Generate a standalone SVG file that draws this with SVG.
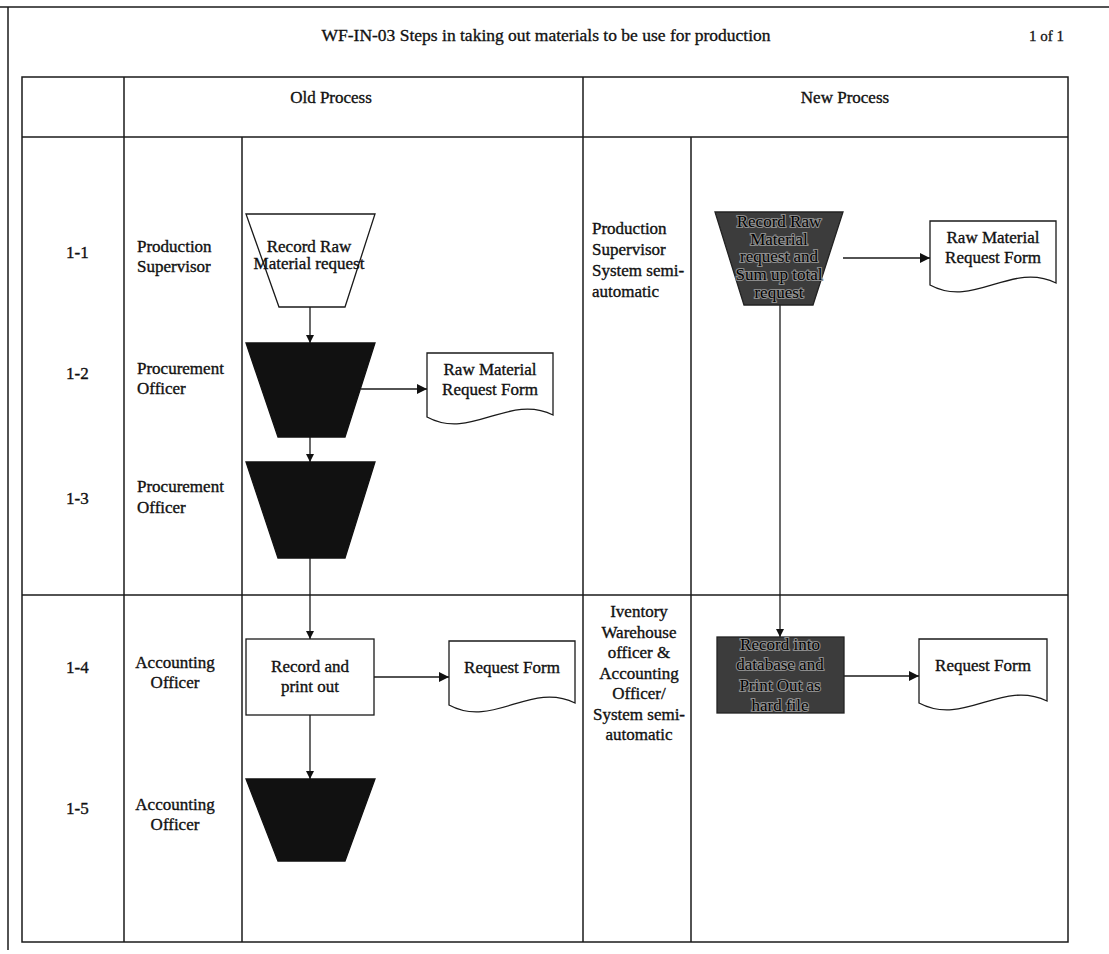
<svg xmlns="http://www.w3.org/2000/svg" width="1109" height="954" viewBox="0 0 1109 954">
  <style>
    .grid { stroke: #1a1a1a; stroke-width: 1.5; fill: none; }
    .t { font-family: "Liberation Serif", "Times New Roman", serif; font-size: 17px; fill: #111; stroke: #111; stroke-width: 0.35; }
    .c { text-anchor: middle; }
    .title { font-family: "Liberation Serif", "Times New Roman", serif; font-size: 16px; fill: #111; stroke: #111; stroke-width: 0.3; }
    .white { fill: #fff; stroke: #1a1a1a; stroke-width: 1.3; }
    .black { fill: #111; stroke: #111; stroke-width: 1.3; }
    .gray { fill: #3c3c3c; stroke: #222; stroke-width: 1.3; }
    .on-gray { fill: #000; stroke: #8c8c8c; stroke-width: 2.2; paint-order: stroke; }
    .conn { stroke: #1a1a1a; stroke-width: 1.3; fill: none; }
  </style>
  <defs>
    <marker id="arr" viewBox="0 0 10 10" refX="10" refY="5" markerWidth="10" markerHeight="8" markerUnits="userSpaceOnUse" orient="auto">
      <path d="M0,0 L10,5 L0,10 Z" fill="#111"/>
    </marker>
    <marker id="arrBig" viewBox="0 0 10 10" refX="10" refY="5" markerWidth="14" markerHeight="10" markerUnits="userSpaceOnUse" orient="auto">
      <path d="M0,0 L10,5 L0,10 Z" fill="#111"/>
    </marker>
  </defs>

  <rect x="0" y="0" width="1109" height="954" fill="#fff"/>

  <!-- page frame -->
  <g id="frame" class="grid">
    <line x1="0" y1="7" x2="1109" y2="7"/>
    <line x1="8" y1="7" x2="8" y2="950"/>
  </g>

  <g id="title">
    <text class="title c" x="546" y="41" textLength="449" lengthAdjust="spacingAndGlyphs">WF-IN-03 Steps in taking out materials to be use for production</text>
    <text class="title" x="1029" y="41" style="font-size:15px">1 of 1</text>
  </g>

  <!-- table grid -->
  <g id="table" class="grid">
    <rect x="22" y="77" width="1046" height="865"/>
    <line x1="22" y1="137" x2="1068" y2="137"/>
    <line x1="22" y1="595" x2="1068" y2="595"/>
    <line x1="124" y1="77" x2="124" y2="942"/>
    <line x1="583" y1="77" x2="583" y2="942"/>
    <line x1="242" y1="137" x2="242" y2="942"/>
    <line x1="691" y1="137" x2="691" y2="942"/>
  </g>

  <g id="headers" class="t c">
    <text x="331" y="103">Old Process</text>
    <text x="845" y="103">New Process</text>
  </g>

  <!-- step numbers -->
  <g id="steps" class="t">
    <text x="66" y="258">1-1</text>
    <text x="66" y="379">1-2</text>
    <text x="66" y="504">1-3</text>
    <text x="66" y="673">1-4</text>
    <text x="66" y="814">1-5</text>
  </g>

  <!-- roles, old process -->
  <g id="roles-old" class="t">
    <text x="137" y="252">Production</text>
    <text x="137" y="272">Supervisor</text>
    <text x="137" y="374">Procurement</text>
    <text x="137" y="394">Officer</text>
    <text x="137" y="492">Procurement</text>
    <text x="137" y="513">Officer</text>
    <text class="c" x="175" y="668">Accounting</text>
    <text class="c" x="175" y="688">Officer</text>
    <text class="c" x="175" y="810">Accounting</text>
    <text class="c" x="175" y="830">Officer</text>
  </g>

  <!-- roles, new process -->
  <g id="roles-new" class="t">
    <text x="592" y="234">Production</text>
    <text x="592" y="255">Supervisor</text>
    <text x="592" y="276">System semi-</text>
    <text x="592" y="297">automatic</text>
    <g class="c">
      <text x="639" y="617">Iventory</text>
      <text x="639" y="637.5">Warehouse</text>
      <text x="639" y="658">officer &amp;</text>
      <text x="639" y="678.5">Accounting</text>
      <text x="639" y="699">Officer/</text>
      <text x="639" y="719.5">System semi-</text>
      <text x="639" y="740">automatic</text>
    </g>
  </g>

  <!-- connectors -->
  <g id="connectors" class="conn">
    <line x1="310" y1="307" x2="310" y2="343" marker-end="url(#arr)"/>
    <line x1="361" y1="389" x2="427" y2="389" marker-end="url(#arrBig)"/>
    <line x1="310" y1="437" x2="310" y2="462" marker-end="url(#arr)"/>
    <line x1="310" y1="558" x2="310" y2="639" marker-end="url(#arr)"/>
    <line x1="374" y1="677" x2="449" y2="677" marker-end="url(#arrBig)"/>
    <line x1="310" y1="715" x2="310" y2="779" marker-end="url(#arr)"/>
    <line x1="843" y1="258" x2="930" y2="258" marker-end="url(#arrBig)"/>
    <line x1="780" y1="305" x2="780" y2="637" marker-end="url(#arr)"/>
    <line x1="844" y1="676" x2="919" y2="676" marker-end="url(#arrBig)"/>
  </g>

  <!-- old process nodes -->
  <g id="old-1-1">
    <polygon class="white" points="246,214 375,214 345,307 279,307"/>
    <text class="t c" x="309" y="252">Record Raw</text>
    <text class="t c" x="309" y="269">Material request</text>
  </g>
  <g id="old-1-2">
    <polygon class="black" points="246,343 375,343 345,437 278,437"/>
  </g>
  <g id="old-1-2-doc">
    <path class="white" d="M427,353 H553 V415 C509,393 471,441 427,417 Z"/>
    <text class="t c" x="490" y="375">Raw Material</text>
    <text class="t c" x="490" y="395">Request Form</text>
  </g>
  <g id="old-1-3">
    <polygon class="black" points="246,462 375,462 345,558 278,558"/>
  </g>
  <g id="old-1-4">
    <rect class="white" x="246" y="639" width="128" height="76"/>
    <text class="t c" x="310" y="672">Record and</text>
    <text class="t c" x="310" y="692">print out</text>
  </g>
  <g id="old-1-4-doc">
    <path class="white" d="M449,641 H575 V703 C531,681 493,729 449,705 Z"/>
    <text class="t c" x="512" y="673">Request Form</text>
  </g>
  <g id="old-1-5">
    <polygon class="black" points="246,779 375,779 345,861 278,861"/>
  </g>

  <!-- new process nodes -->
  <g id="new-1-1">
    <polygon class="gray" points="715,212 843,212 813,305 744,305"/>
    <g class="t c on-gray">
      <text x="779" y="227">Record Raw</text>
      <text x="779" y="245">Material</text>
      <text x="779" y="262">request and</text>
      <text x="779" y="280">Sum up total</text>
      <text x="779" y="298">request</text>
    </g>
  </g>
  <g id="new-1-1-doc">
    <path class="white" d="M930,221 H1056 V283 C1012,261 974,309 930,285 Z"/>
    <text class="t c" x="993" y="243">Raw Material</text>
    <text class="t c" x="993" y="263">Request Form</text>
  </g>
  <g id="new-1-4">
    <rect class="gray" x="717" y="637" width="127" height="76"/>
    <g class="t c on-gray">
      <text x="780" y="650">Record into</text>
      <text x="780" y="670">database and</text>
      <text x="780" y="691">Print Out as</text>
      <text x="780" y="711">hard file</text>
    </g>
  </g>
  <g id="new-1-4-doc">
    <path class="white" d="M919,639 H1047 V701 C1002,679 964,727 919,703 Z"/>
    <text class="t c" x="983" y="671">Request Form</text>
  </g>
</svg>
